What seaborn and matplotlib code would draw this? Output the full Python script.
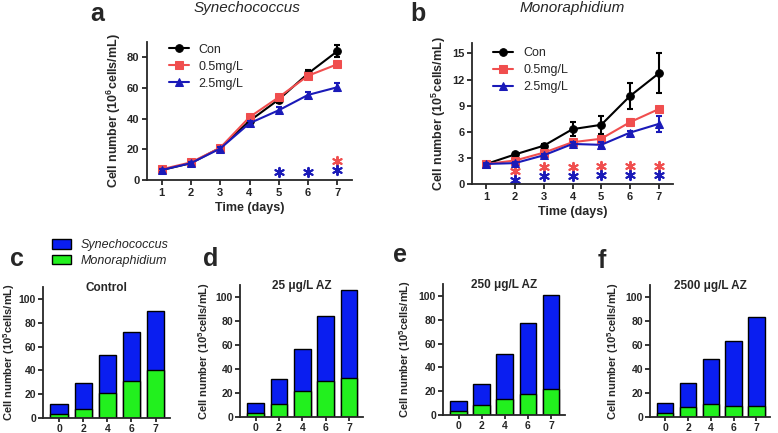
import seaborn as sns
import pandas as pd
import numpy as np
import matplotlib.pyplot as plt
from matplotlib.patches import Patch

# growth curves (panels a, b)
days = [1, 2, 3, 4, 5, 6, 7]
series_names = ['Con', '0.5mg/L', '2.5mg/L']

syn_con = [6.5, 11, 21, 38.5, 52.5, 69.5, 84]
syn_con_err = [1, 1, 1, 1.5, 2, 2, 4]
syn_05 = [7, 11.5, 21, 41, 54, 68, 75.5]
syn_05_err = [1, 1, 1, 1.5, 1.5, 2, 2]
syn_25 = [6.5, 11, 20.5, 37, 45.5, 55.5, 60.5]
syn_25_err = [1, 1, 1, 1.5, 2, 2, 2.5]

mono_con = [2.3, 3.4, 4.4, 6.3, 6.8, 10.1, 12.7]
mono_con_err = [0.1, 0.15, 0.25, 0.8, 1.0, 1.5, 2.3]
mono_05 = [2.3, 2.7, 3.6, 4.8, 5.2, 7.1, 8.6]
mono_05_err = [0.1, 0.15, 0.2, 0.2, 0.2, 0.4, 0.3]
mono_25 = [2.3, 2.4, 3.3, 4.6, 4.5, 5.9, 6.9]
mono_25_err = [0.1, 0.1, 0.15, 0.2, 0.3, 0.2, 0.9]

# significance stars: days and heights
syn_star_red_x = [7]
syn_star_red_y = [12.5]
syn_star_blue_x = [5, 6, 7]
syn_star_blue_y = [5, 5.5, 6.5]
mono_star_red_x = [2, 3, 4, 5, 6, 7]
mono_star_red_y = [1.5, 2.0, 2.0, 2.1, 2.1, 2.1]
mono_star_blue_x = [2, 3, 4, 5, 6, 7]
mono_star_blue_y = [0.45, 0.9, 0.9, 1.05, 1.05, 1.05]

# co-culture bars (panels c-f)
bar_days = ['0', '2', '4', '6', '7']
bar_titles = ['Control', '25 μg/L AZ', '250 μg/L AZ', '2500 μg/L AZ']
total_ctrl = [12, 29, 53, 72, 90]
mono_ctrl = [3, 7.5, 21, 31, 40]
total_25 = [12, 32, 57, 84, 106]
mono_25b = [3, 11, 22, 30, 32.5]
total_250 = [12, 26, 51, 77, 101]
mono_250 = [3, 8, 13.5, 18, 22]
total_2500 = [12, 28, 48, 63, 83.5]
mono_2500 = [3, 8.5, 10.5, 9.5, 9.5]

sns.set_style('ticks')
plt.rcParams['font.family'] = ['Liberation Sans', 'DejaVu Sans']
plt.rcParams['mathtext.fontset'] = 'custom'
plt.rcParams['mathtext.rm'] = 'Liberation Sans'
plt.rcParams['mathtext.bf'] = 'Liberation Sans:bold'
plt.rcParams['axes.linewidth'] = 1.3
plt.rcParams['xtick.major.width'] = 1.3
plt.rcParams['ytick.major.width'] = 1.3
plt.rcParams['xtick.major.size'] = 3.5
plt.rcParams['ytick.major.size'] = 3.5
plt.rcParams['xtick.major.pad'] = 2
plt.rcParams['ytick.major.pad'] = 2

W, H = 778, 433
fig = plt.figure(figsize=(W / 100, H / 100), dpi=100)


def box(l, r, t, b):
    return [l / W, (H - b) / H, (r - l) / W, (b - t) / H]


colors = ['black', '#f04e4e', '#1a1ab8']
markers = ['o', 's', '^']
bar_blue = '#0a1ef0'
bar_green = '#22f01e'
star = (6, 2, 0)


def bold_ticks(ax, size=8):
    for lab in ax.get_xticklabels() + ax.get_yticklabels():
        lab.set_fontweight('bold')
        lab.set_fontsize(size)


def growth(ax, vals, errs, red_x, red_y, blue_x, blue_y, ylim, yticks, ylabel, leg_y):
    for v, e, c, m, name in zip(vals, errs, colors, markers, series_names):
        df = pd.DataFrame({'day': days, 'val': v})
        sns.lineplot(data=df, x='day', y='val', ax=ax, color=c, marker=m,
                     markersize=5.5, markeredgecolor=c, linewidth=1.5, label=name)
        ax.errorbar(days, v, yerr=e, fmt='none', ecolor=c, elinewidth=1.5,
                    capsize=2.5, capthick=1.5)
    sns.scatterplot(x=red_x, y=red_y, ax=ax, marker=star, s=45, color=colors[1],
                    linewidth=1.4, edgecolor=colors[1])
    sns.scatterplot(x=blue_x, y=blue_y, ax=ax, marker=star, s=45, color=colors[2],
                    linewidth=1.4, edgecolor=colors[2])
    ax.set_xlim(0.5, 7.5)
    ax.set_ylim(*ylim)
    ax.set_xticks(days)
    ax.set_yticks(yticks)
    ax.set_xlabel('Time (days)', fontweight='bold', fontsize=9, labelpad=3)
    ax.set_ylabel(ylabel, fontweight='bold', fontsize=9, labelpad=3)
    bold_ticks(ax)
    sns.despine(ax=ax)
    ax.legend(loc='upper left', bbox_to_anchor=(0.05, leg_y), frameon=False,
              fontsize=9, handlelength=1.6, labelspacing=0.4)


ax_a = fig.add_axes(box(147, 352, 42, 180))
growth(ax_a, [syn_con, syn_05, syn_25], [syn_con_err, syn_05_err, syn_25_err],
       syn_star_red_x, syn_star_red_y, syn_star_blue_x, syn_star_blue_y,
       (0, 90), [0, 20, 40, 60, 80],
       r'Cell number (10$^{\mathbf{6}}$cells/mL)', 1.07)
fig.text(247 / W, 1 - 8 / H, 'Synechococcus', fontstyle='italic', fontsize=11,
         ha='center', va='center')

ax_b = fig.add_axes(box(472, 673, 43, 184))
growth(ax_b, [mono_con, mono_05, mono_25], [mono_con_err, mono_05_err, mono_25_err],
       mono_star_red_x, mono_star_red_y, mono_star_blue_x, mono_star_blue_y,
       (0, 16.2), [0, 3, 6, 9, 12, 15],
       r'Cell number (10$^{\mathbf{5}}$cells/mL)', 1.05)
fig.text(572 / W, 1 - 8 / H, 'Monoraphidium', fontstyle='italic', fontsize=11,
         ha='center', va='center')

bar_boxes = [(43, 170, 287, 418), (240, 363, 285, 417),
             (443, 565, 284, 415), (650, 770, 285, 417)]
label_offsets = [26, 28, 30, 29]
bar_totals = [total_ctrl, total_25, total_250, total_2500]
bar_monos = [mono_ctrl, mono_25b, mono_250, mono_2500]
for bx, off, tot, mon, title in zip(bar_boxes, label_offsets, bar_totals, bar_monos, bar_titles):
    ax = fig.add_axes(box(*bx))
    sns.barplot(x=bar_days, y=tot, color=bar_blue, edgecolor='black',
                linewidth=1.0, width=0.72, saturation=1, ax=ax)
    sns.barplot(x=bar_days, y=mon, color=bar_green, edgecolor='black',
                linewidth=1.0, width=0.72, saturation=1, ax=ax)
    ax.set_xlim(-0.67, 4.6)
    ax.set_ylim(0, 110)
    ax.set_yticks([0, 20, 40, 60, 80, 100])
    ax.tick_params(axis='x', pad=1.5, length=3)
    ax.tick_params(axis='y', pad=1.5)
    ax.set_ylabel(r'Cell number (10$^{\mathbf{5}}$cells/mL)', fontweight='bold',
                  fontsize=8)
    ax.yaxis.set_label_coords(-off / (bx[1] - bx[0]), 0.5)
    ax.set_xlabel('')
    ax.text(0.5, 0.99, title, transform=ax.transAxes, ha='center', va='center',
            fontweight='bold', fontsize=8.5)
    bold_ticks(ax, 7.5)
    sns.despine(ax=ax)

# legend for bar panels
handles = [Patch(facecolor=bar_blue, edgecolor='black', label='Synechococcus'),
           Patch(facecolor=bar_green, edgecolor='black', label='Monoraphidium')]
leg = fig.legend(handles=handles, loc='center left', bbox_to_anchor=(47 / W, 1 - 253 / H),
                 frameon=False, fontsize=9, handlelength=1.5, handleheight=0.8,
                 labelspacing=0.25, borderaxespad=0)
for t in leg.get_texts():
    t.set_fontstyle('italic')

# panel letters
letters = [('a', 90, 14), ('b', 410, 14), ('c', 10, 259), ('d', 203, 259),
           ('e', 393, 255), ('f', 598, 261)]
for s, x, y in letters:
    fig.text(x / W, 1 - y / H, s, fontsize=18, fontweight='bold', va='center', ha='left')

plt.savefig('out.png', dpi=100)
